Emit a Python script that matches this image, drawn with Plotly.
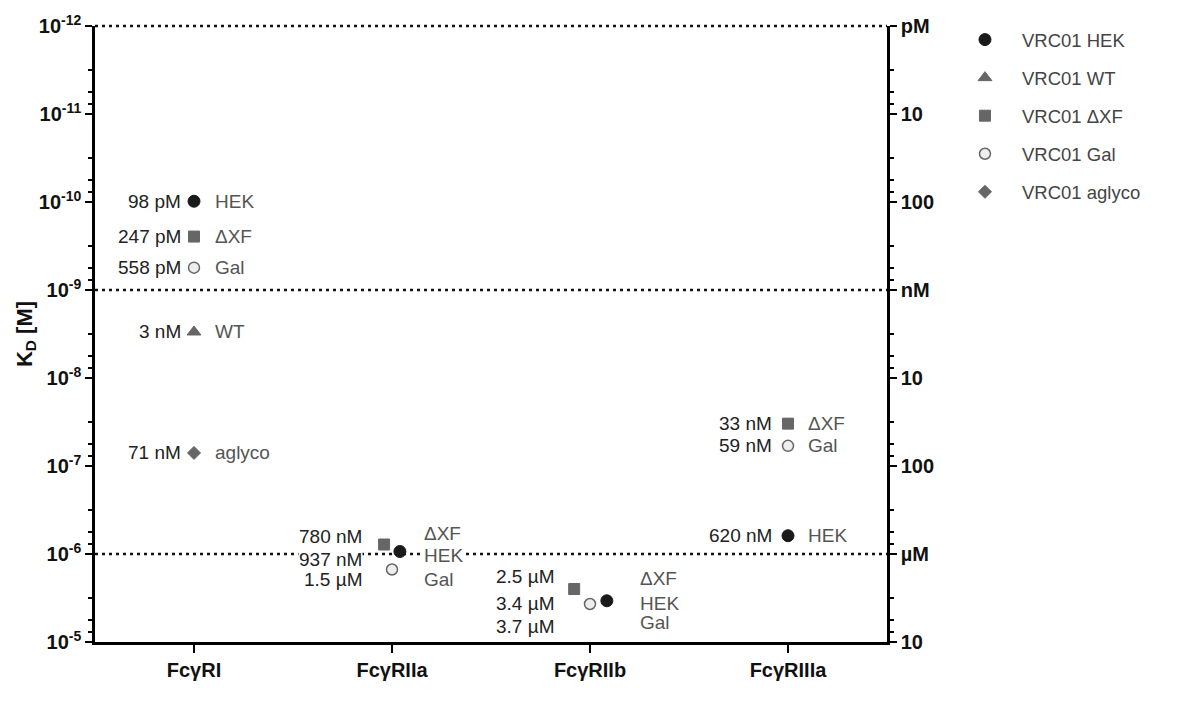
import numpy as np
import plotly.graph_objects as go

# ---------------- data ----------------
receptors = ["FcγRI", "FcγRIIa", "FcγRIIb", "FcγRIIIa"]
receptor_labels = ["Fc&#947;RI", "Fc&#947;RIIa", "Fc&#947;RIIb", "Fc&#947;RIIIa"]

series_names = ["VRC01 HEK", "VRC01 WT", "VRC01 ΔXF", "VRC01 Gal", "VRC01 aglyco"]
short_names = ["HEK", "WT", "ΔXF", "Gal", "aglyco"]

kd_hek = [98e-12, 937e-9, 3.4e-6, 620e-9]
kd_wt = [3e-9, None, None, None]
kd_dxf = [247e-12, 780e-9, 2.5e-6, 33e-9]
kd_gal = [558e-12, 1.5e-6, 3.7e-6, 59e-9]
kd_aglyco = [71e-9, None, None, None]

left_ticks = [1e-12, 1e-11, 1e-10, 1e-9, 1e-8, 1e-7, 1e-6, 1e-5]
left_ticktext = ["10<sup>-12</sup>", "10<sup>-11</sup>", "10<sup>-10</sup>", "10<sup>-9</sup>",
                 "10<sup>-8</sup>", "10<sup>-7</sup>", "10<sup>-6</sup>", "10<sup>-5</sup>"]
right_ticktext = ["pM", "10", "100", "nM", "10", "100", "µM", "10"]
ref_lines = [1e-12, 1e-9, 1e-6]

all_series = [kd_hek, kd_wt, kd_dxf, kd_gal, kd_aglyco]

# ---------------- styles ----------------
styles = [
    dict(symbol="circle", size=12, color="#1a1a1a", line=dict(color="#1a1a1a", width=1)),
    dict(symbol="triangle-up", size=12, color="#666666", line=dict(color="#666666", width=1)),
    dict(symbol="square", size=11, color="#666666", line=dict(color="#666666", width=1)),
    dict(symbol="circle", size=11, color="#eeeeee", line=dict(color="#666666", width=1.5)),
    dict(symbol="diamond", size=10, color="#666666", line=dict(color="#666666", width=1)),
]
DOT = "3px,4px"
# horizontal jitter (category units) per series per receptor
jitter = [
    [0, 0.04, 0.085, 0],
    [0, 0, 0, 0],
    [0, -0.04, -0.08, 0],
    [0, 0, 0, 0],
    [0, 0, 0, 0],
]
# label pixel offsets per receptor: value label right edge, name label left edge
val_xshift = [-12, -29, -35, -15]
name_xshift = [20, 31, 49, 19]
# vertical shifts (px, + is up) per series per receptor
val_yshift = [
    [0, -8, -3, 0],
    [0, 0, 0, 0],
    [0, 8, 13, 0],
    [0, -10, -22, 0],
    [0, 0, 0, 0],
]
name_yshift = [
    [0, -4, -3, 0],
    [0, 0, 0, 0],
    [0, 11, 11, 0],
    [0, -10, -18, 0],
    [0, 0, 0, 0],
]


def fmt(v):
    if v < 1e-9:
        return "%g pM" % round(v * 1e12, 1)
    if v < 1e-6:
        return "%g nM" % round(v * 1e9, 1)
    return "%g µM" % round(v * 1e6, 1)


FONT = "Liberation Sans, Arial, sans-serif"
fig = go.Figure()

# dotted reference lines at nM and µM (top pM line drawn as a shape at the frame edge)
for v in ref_lines[1:]:
    fig.add_trace(go.Scatter(x=[-0.5, 3.5], y=[v, v], mode="lines", showlegend=False,
                             hoverinfo="skip",
                             line=dict(color="#111111", width=2.5, dash=DOT)))

annotations = []
for si, (name, vals) in enumerate(zip(series_names, all_series)):
    xs, ys = [], []
    for ri, v in enumerate(vals):
        if v is None:
            continue
        xs.append(ri + jitter[si][ri])
        ys.append(v)
        annotations.append(dict(
            x=ri, y=np.log10(v), xref="x", yref="y", text=fmt(v), showarrow=False,
            xanchor="right", yanchor="middle", xshift=val_xshift[ri], yshift=val_yshift[si][ri],
            bgcolor="white", borderpad=0,
            font=dict(family=FONT, size=19, color="#222222")))
        annotations.append(dict(
            x=ri, y=np.log10(v), xref="x", yref="y", text=short_names[si], showarrow=False,
            xanchor="left", yanchor="middle", xshift=name_xshift[ri], yshift=name_yshift[si][ri],
            bgcolor="white", borderpad=0,
            font=dict(family=FONT, size=19, color="#555555")))
    st = styles[si]
    fig.add_trace(go.Scatter(
        x=xs, y=ys, mode="markers", name=name, legendgroup=name,
        marker=dict(symbol=st["symbol"], size=st["size"], color=st["color"], line=st["line"]),
        cliponaxis=False))

# invisible trace to carry the right axis
fig.add_trace(go.Scatter(x=[0], y=[1e-9], yaxis="y2", mode="markers",
                         marker=dict(opacity=0), showlegend=False, hoverinfo="skip"))

shapes = [dict(type="line", xref="paper", yref="paper", x0=0, x1=1, y0=1, y1=1,
               line=dict(color="#111111", width=2.5, dash=DOT))]

minor_vals = []
for d in left_ticks[:-1]:
    for m in (3.2, 5.6, 7.6):
        minor_vals.append(d * m)

yrange = [np.log10(left_ticks[-1]), np.log10(left_ticks[0])]

axis_common = dict(
    type="log", range=yrange, tickmode="array", tickvals=left_ticks,
    ticks="outside", ticklen=7, tickwidth=2, tickcolor="black",
    showline=True, linewidth=2.5, linecolor="black", showgrid=False, zeroline=False,
    minor=dict(tickmode="array", tickvals=minor_vals, ticks="outside", ticklen=4,
               tickwidth=2, tickcolor="black", showgrid=False),
)

fig.update_layout(
    width=1182, height=702,
    margin=dict(l=95, r=295, t=22, b=60),
    plot_bgcolor="white", paper_bgcolor="white",
    font=dict(family=FONT, color="#111111"),
    showlegend=True,
    legend=dict(x=1.077, y=1.008, xanchor="left", yanchor="top",
                font=dict(family=FONT, size=18.5, color="#444444"),
                itemwidth=64,
                tracegroupgap=11, bgcolor="rgba(0,0,0,0)"),
    xaxis=dict(range=[-0.5, 3.5], tickmode="array", tickvals=list(range(len(receptors))),
               ticktext=["<b>%s</b>" % t for t in receptor_labels],
               tickfont=dict(family=FONT, size=20, color="#111111"),
               ticks="outside", ticklen=8, tickwidth=2, tickcolor="black",
               showline=True, linewidth=2.5, linecolor="black", showgrid=False, zeroline=False),
    yaxis=dict(**axis_common, ticktext=["<b>%s</b>" % t for t in left_ticktext],
               tickfont=dict(family=FONT, size=20, color="#111111"),
               title=dict(text="<b>K<sub>D</sub> [M]</b>", font=dict(family=FONT, size=22, color="#111111"),
                          standoff=1)),
    yaxis2=dict(**axis_common, overlaying="y", side="right",
                ticktext=["<b>%s</b>" % t for t in right_ticktext],
                tickfont=dict(family=FONT, size=20, color="#111111")),
    shapes=shapes,
    annotations=annotations,
)

fig.write_html("out.html")
